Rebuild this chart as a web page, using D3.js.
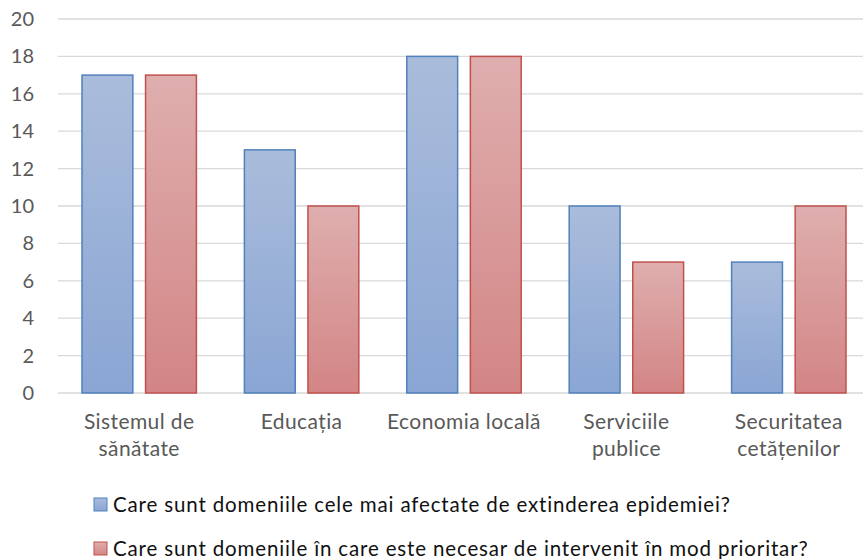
<!DOCTYPE html>
<html>
<head>
<meta charset="utf-8">
<script src="https://cdn.jsdelivr.net/npm/d3@7"></script>
<style>
  body { margin: 0; background: #fff; }
  text { font-family: Lato, "Open Sans", sans-serif; }
</style>
</head>
<body>
<div id="chart"></div>
<script>
var categories = [["Sistemul de", "sănătate"], ["Educația"], ["Economia locală"], ["Serviciile", "publice"], ["Securitatea", "cetățenilor"]];
var seriesNames = ["Care sunt domeniile cele mai afectate de extinderea epidemiei?",
                   "Care sunt domeniile în care este necesar de intervenit în mod prioritar?"];
var affected = [17, 13, 18, 10, 7];
var priority = [17, 10, 18, 7, 10];
var yTicks = [0, 2, 4, 6, 8, 10, 12, 14, 16, 18, 20];

// set the dimensions and margins of the graph
var width = 863, height = 559;
var margin = {top: 19, left: 58, right: -7, bottom: 166};
var plotW = width - margin.left - margin.right,
    plotH = height - margin.top - margin.bottom;

var svg = d3.select("#chart")
  .append("svg")
    .attr("width", width)
    .attr("height", height);

var defs = svg.append("defs");
function grad(id, top, bottom) {
  var g = defs.append("linearGradient").attr("id", id)
    .attr("x1", 0).attr("y1", 0).attr("x2", 0).attr("y2", 1);
  g.append("stop").attr("offset", "0%").attr("stop-color", top);
  g.append("stop").attr("offset", "100%").attr("stop-color", bottom);
}
grad("gBlue", "#aabcdb", "#8aa6d4");
grad("gRed", "#dfaeae", "#d38585");

var colors = [{fill: "url(#gBlue)", stroke: "#4f81bd"}, {fill: "url(#gRed)", stroke: "#c0504d"}];

var g = svg.append("g")
  .attr("transform", "translate(" + margin.left + "," + margin.top + ")");

var x0 = d3.scaleBand()
  .domain(d3.range(categories.length))
  .range([0, plotW]);

var x1 = d3.scaleBand()
  .domain([0, 1])
  .range([24, x0.bandwidth() - 24])
  .paddingInner(0.2);

var y = d3.scaleLinear()
  .domain([0, 20])
  .range([plotH, 0]);

// gridlines
g.selectAll(".grid")
  .data(yTicks)
  .enter().append("line")
  .attr("x1", 0).attr("x2", plotW)
  .attr("y1", function(d) { return y(d); })
  .attr("y2", function(d) { return y(d); })
  .attr("stroke", "#d9d9d9")
  .attr("stroke-width", 1.3);

// Y axis
var yAxis = g.append("g")
  .call(d3.axisLeft(y).tickValues(yTicks).tickSize(0).tickPadding(24));
yAxis.select(".domain").remove();
yAxis.selectAll("text")
  .attr("fill", "#595959")
  .attr("text-anchor", "end")
  .style("font-size", "20px");

// bars
var data = [affected, priority];
var groups = g.selectAll(".cat")
  .data(categories)
  .enter().append("g")
  .attr("transform", function(d, i) { return "translate(" + x0(i) + ",0)"; });

groups.selectAll("rect")
  .data(function(d, i) { return data.map(function(s, k) { return {k: k, v: s[i]}; }); })
  .enter().append("rect")
  .attr("x", function(d) { return x1(d.k); })
  .attr("y", function(d) { return y(d.v); })
  .attr("width", x1.bandwidth())
  .attr("height", function(d) { return plotH - y(d.v); })
  .attr("fill", function(d) { return colors[d.k].fill; })
  .attr("stroke", function(d) { return colors[d.k].stroke; })
  .attr("stroke-width", 1.5);

// category labels
groups.append("text")
  .attr("text-anchor", "middle")
  .attr("x", x0.bandwidth() / 2)
  .attr("fill", "#595959")
  .style("font-size", "21px")
  .style("letter-spacing", "0.4px")
  .selectAll("tspan")
  .data(function(d) { return d; })
  .enter().append("tspan")
  .attr("x", x0.bandwidth() / 2)
  .attr("y", function(d, i) { return plotH + 36 + i * 27; })
  .text(function(d) { return d; });

// legend
var legend = svg.selectAll(".legend")
  .data(seriesNames)
  .enter().append("g")
  .attr("transform", function(d, i) { return "translate(94," + (498 + i * 44) + ")"; });

legend.append("rect")
  .attr("width", 13).attr("height", 13)
  .attr("fill", function(d, i) { return colors[i].fill; })
  .attr("stroke", function(d, i) { return colors[i].stroke; })
  .attr("stroke-width", 1);

legend.append("text")
  .attr("x", 19)
  .attr("y", 14)
  .attr("fill", "#111")
  .style("font-size", "20.5px")
  .style("letter-spacing", "0.85px")
  .text(function(d) { return d; });
</script>
</body>
</html>
